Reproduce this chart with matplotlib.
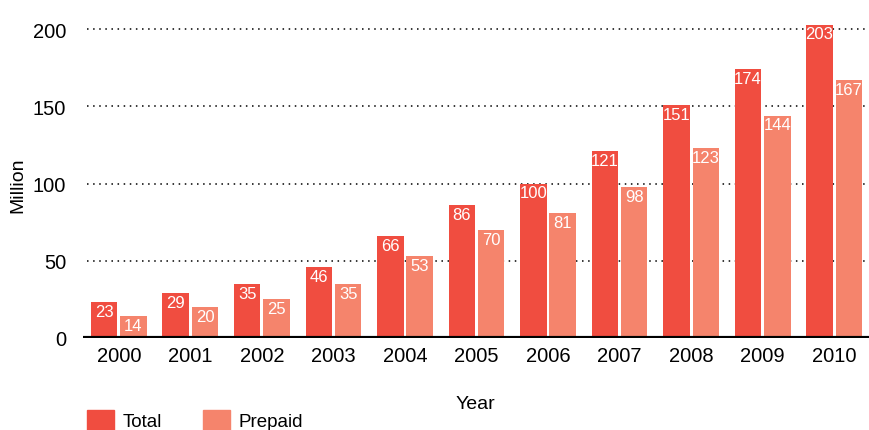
import numpy as np
import matplotlib
matplotlib.use('Agg')
import matplotlib.pyplot as plt
import matplotlib.patches as mpatches

# data
years = ['2000', '2001', '2002', '2003', '2004', '2005',
         '2006', '2007', '2008', '2009', '2010']
total = [23, 29, 35, 46, 66, 86, 100, 121, 151, 174, 203]
prepaid = [14, 20, 25, 35, 53, 70, 81, 98, 123, 144, 167]

c_total = '#F04D40'
c_prepaid = '#F5846C'

plt.rcParams['font.family'] = ['Liberation Sans', 'DejaVu Sans']

fig = plt.figure(figsize=(8.7, 4.31), dpi=100)
ax = fig.add_axes([83 / 870, 92 / 431, 787 / 870, 332 / 431])

x = np.arange(len(years))
w = 0.37
gap = 0.02
b1 = ax.bar(x - w / 2 - gap, total, width=w, color=c_total, zorder=2)
b2 = ax.bar(x + w / 2 + gap, prepaid, width=w, color=c_prepaid, zorder=2)

# value labels inside the top of each bar
for bars in (b1, b2):
    for r in bars:
        h = r.get_height()
        ax.text(r.get_x() + r.get_width() / 2, h - 1.2, f'{h:g}',
                ha='center', va='top', color='white', fontsize=12, zorder=3)

ax.set_xlim(-0.5, len(years) - 0.5)
ax.set_ylim(0, 215)
ax.set_yticks([0, 50, 100, 150, 200])
ax.set_xticks(x)
ax.set_xticklabels(years)
ax.tick_params(axis='both', length=0, labelsize=14.5)
ax.tick_params(axis='y', pad=12)
ax.tick_params(axis='x', pad=6)

# dotted gridlines
for yv in [50, 100, 150, 200]:
    ax.axhline(yv, xmin=0.005, color='black', linestyle=(0, (1, 3)),
               linewidth=1.1, zorder=1)
ax.axhline(0, color='black', linewidth=3, zorder=4)

for s in ax.spines.values():
    s.set_visible(False)

fig.text(18 / 870, 1 - 185 / 431, 'Million', fontsize=14, rotation=90,
         ha='center', va='center')
fig.text(475 / 870, 1 - 405 / 431, 'Year', fontsize=14, ha='center', va='center')

handles = [mpatches.Patch(color=c_total, label='Total'),
           mpatches.Patch(color=c_prepaid, label='Prepaid')]
fig.legend(handles=handles, loc='lower left', bbox_to_anchor=(70 / 870, -0.04),
           ncol=2, frameon=False, fontsize=13.5, handlelength=1.45,
           handleheight=1.3, handletextpad=0.45, columnspacing=2.2)

fig.savefig('out.png', dpi=100)
